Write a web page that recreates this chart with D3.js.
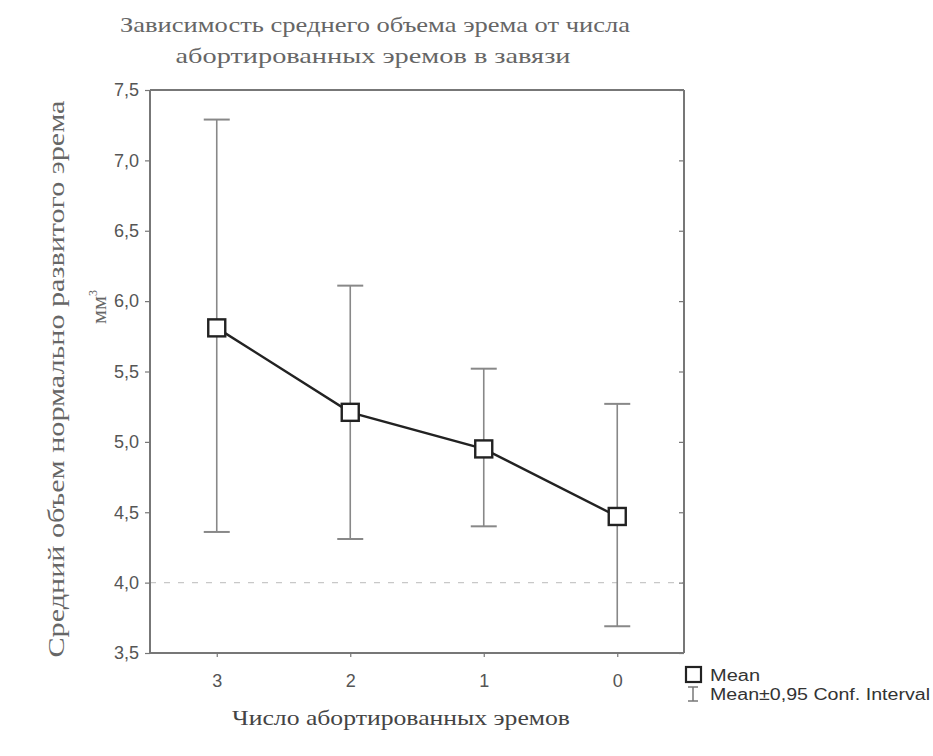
<!DOCTYPE html>
<html><head><meta charset="utf-8">
<script src="https://cdn.jsdelivr.net/npm/d3@7"></script>
<style>body{margin:0;background:#fff}</style>
</head><body>
<svg id="c" width="933" height="756"></svg>
<script>
const categories = ["3","2","1","0"];
const means = [5.81, 5.21, 4.95, 4.47];
const upper = [7.29, 6.11, 5.52, 5.27];
const lower = [4.36, 4.31, 4.40, 3.69];
const yTicks = [3.5,4.0,4.5,5.0,5.5,6.0,6.5,7.0,7.5];
const gridValues = [4.0];
const titleLines = ["Зависимость среднего объема эрема от числа","абортированных эремов в завязи"];
const xTitle = "Число абортированных эремов";
const yTitle = ["Средний объем нормально развитого эрема","мм"];
const legendLabels = ["Mean","Mean±0,95 Conf. Interval"];

const svg = d3.select("#c");
const L=150,R=684,T=90,B=653;
const x = d3.scalePoint().domain(categories).range([L,R]).padding(0.5);
const y = d3.scaleLinear().domain([3.5,7.5]).range([B,T]);
const fmt = d=>d3.format(".1f")(d).replace(".",",");

svg.selectAll(".grid").data(gridValues).enter().append("line")
  .attr("x1",L).attr("x2",R).attr("y1",d=>y(d)).attr("y2",d=>y(d))
  .attr("stroke","#c8c8c8").attr("stroke-width",1.2).attr("stroke-dasharray","6,8");

const gl = svg.append("g").attr("transform",`translate(${L},0)`)
  .call(d3.axisLeft(y).tickValues(yTicks).tickFormat(fmt).tickSize(5).tickPadding(6));
const gr = svg.append("g").attr("transform",`translate(${R},0)`)
  .call(d3.axisLeft(y).tickValues(yTicks).tickFormat("").tickSize(5));
const gb = svg.append("g").attr("transform",`translate(0,${B})`)
  .call(d3.axisBottom(x).tickSize(4).tickPadding(17));
const gt = svg.append("g").attr("transform",`translate(0,${T})`)
  .call(d3.axisTop(x).tickFormat("").tickSize(0));
[gl,gr,gb,gt].forEach(g=>{
  g.select(".domain").attr("stroke","#777").attr("stroke-width",2);
  g.selectAll(".tick line").attr("stroke","#777").attr("stroke-width",1.2);
  g.selectAll("text").attr("fill","#555").style("font-family","'Liberation Sans',Arial,sans-serif").style("font-size","18px");
});
gr.select(".domain").attr("d",`M0,${T}V${B}`);
gl.select(".domain").attr("d",`M0,${T}V${B}`);
gb.select(".domain").attr("d",`M${L},0H${R}`);
gt.select(".domain").attr("d",`M${L},0H${R}`);

const data = categories.map((c,i)=>({c,m:means[i],u:upper[i],l:lower[i]}));
const eb = svg.append("g");
eb.selectAll(".v").data(data).enter().append("line")
  .attr("x1",d=>x(d.c)).attr("x2",d=>x(d.c)).attr("y1",d=>y(d.u)).attr("y2",d=>y(d.l))
  .attr("stroke","#888").attr("stroke-width",1.6);
["u","l"].forEach(k=>{
  eb.selectAll(".c"+k).data(data).enter().append("line")
    .attr("x1",d=>x(d.c)-13).attr("x2",d=>x(d.c)+13).attr("y1",d=>y(d[k])).attr("y2",d=>y(d[k]))
    .attr("stroke","#888").attr("stroke-width",2);
});

svg.append("path").datum(data)
  .attr("d",d3.line().x(d=>x(d.c)).y(d=>y(d.m)))
  .attr("fill","none").attr("stroke","#222").attr("stroke-width",2.4);
const S=17;
svg.selectAll(".pt").data(data).enter().append("rect")
  .attr("x",d=>x(d.c)-S/2).attr("y",d=>y(d.m)-S/2).attr("width",S).attr("height",S)
  .attr("fill","#fff").attr("stroke","#222").attr("stroke-width",2.4);

const serif="'Liberation Serif','DejaVu Serif',serif";
svg.append("text").attr("x",375).attr("y",32).attr("text-anchor","middle")
  .attr("textLength",510).attr("lengthAdjust","spacingAndGlyphs")
  .style("font-family",serif).style("font-size","22px").attr("fill","#666").text(titleLines[0]);
svg.append("text").attr("x",373).attr("y",63).attr("text-anchor","middle")
  .attr("textLength",395).attr("lengthAdjust","spacingAndGlyphs")
  .style("font-family",serif).style("font-size","22px").attr("fill","#666").text(titleLines[1]);
svg.append("text").attr("x",401).attr("y",725).attr("text-anchor","middle")
  .attr("textLength",338).attr("lengthAdjust","spacingAndGlyphs")
  .style("font-family",serif).style("font-size","22px").attr("fill","#444").text(xTitle);
svg.append("text").attr("transform","translate(64,379) rotate(-90)").attr("text-anchor","middle")
  .attr("textLength",557).attr("lengthAdjust","spacingAndGlyphs")
  .style("font-family",serif).style("font-size","23px").attr("fill","#666").text(yTitle[0]);
const yt2 = svg.append("text").attr("transform","translate(106,307) rotate(-90)").attr("text-anchor","middle")
  .style("font-family",serif).style("font-size","22px").attr("fill","#666");
yt2.append("tspan").text(yTitle[1]);
yt2.append("tspan").attr("dy",-9).style("font-size","12px").text("3");

const lg = svg.append("g");
lg.append("rect").attr("x",686).attr("y",667).attr("width",15).attr("height",15)
  .attr("fill","#fff").attr("stroke","#222").attr("stroke-width",2.2);
lg.append("line").attr("x1",693).attr("x2",693).attr("y1",687).attr("y2",701).attr("stroke","#777").attr("stroke-width",1.5);
lg.append("line").attr("x1",688).attr("x2",698).attr("y1",687).attr("y2",687).attr("stroke","#777").attr("stroke-width",1.5);
lg.append("line").attr("x1",688).attr("x2",698).attr("y1",701).attr("y2",701).attr("stroke","#777").attr("stroke-width",1.5);
lg.append("text").attr("x",710).attr("y",681).attr("textLength",50).attr("lengthAdjust","spacingAndGlyphs")
  .style("font-family","'Liberation Sans',Arial,sans-serif").style("font-size","16px").attr("fill","#333").text(legendLabels[0]);
lg.append("text").attr("x",710).attr("y",700).attr("textLength",220).attr("lengthAdjust","spacingAndGlyphs")
  .style("font-family","'Liberation Sans',Arial,sans-serif").style("font-size","16px").attr("fill","#333").text(legendLabels[1]);
</script>
</body></html>
